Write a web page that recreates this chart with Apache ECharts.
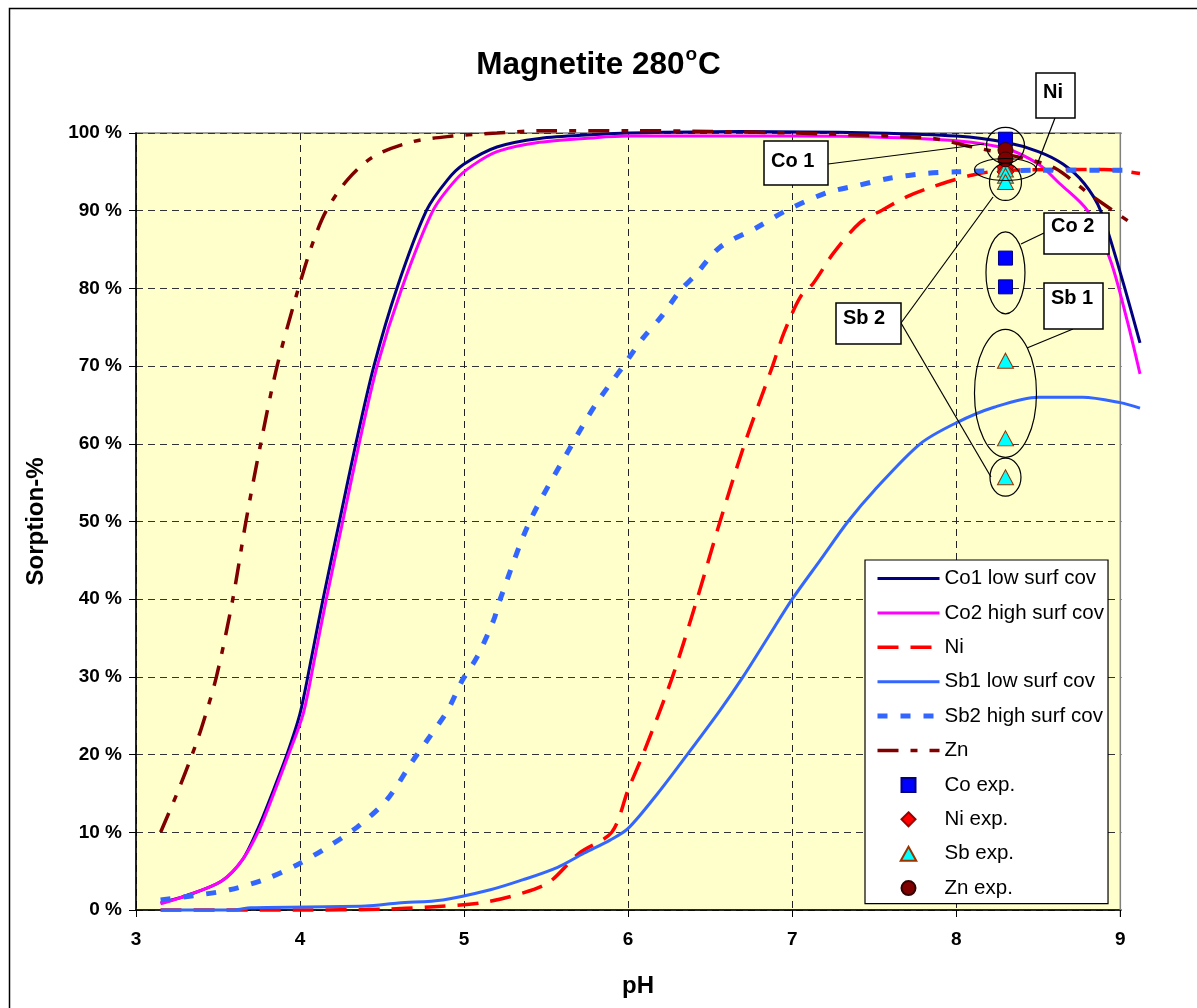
<!DOCTYPE html>
<html>
<head>
<meta charset="utf-8">
<script src="https://cdn.jsdelivr.net/npm/echarts@6/dist/echarts.min.js"></script>
<style>
html,body{margin:0;padding:0;background:#fff;}
#chart{width:1197px;height:1008px;}
</style>
</head>
<body>
<div id="chart"></div>
<script>
// ---- data (pH, sorption %) ----
const co1 = [[3.15,0.9],[3.3,1.8],[3.52,3.7],[3.65,6.5],[3.74,10.3],[3.83,15],[3.92,20],[4.0,25.3],[4.07,32.5],[4.14,40],[4.24,50],[4.34,60],[4.45,70],[4.59,80],[4.77,90],[4.9,94],[5.0,96],[5.2,98.2],[5.46,99.3],[5.8,99.8],[6.0,100],[6.7,100.2],[7.5,100],[8.0,99.6],[8.3,98.8],[8.5,97.6],[8.65,96],[8.78,93.5],[8.88,90],[9.0,82],[9.12,73]];
const co2 = [[3.15,0.8],[3.3,1.8],[3.52,3.7],[3.65,6.5],[3.75,10.3],[3.84,15],[3.93,20],[4.02,25.3],[4.09,32.5],[4.16,40],[4.26,50],[4.36,60],[4.47,70],[4.62,80],[4.81,90],[4.95,94],[5.05,95.8],[5.2,97.6],[5.46,98.8],[5.8,99.4],[6.0,99.6],[7.0,99.6],[7.5,99.5],[8.0,99],[8.3,98],[8.5,96],[8.63,93.5],[8.8,90],[8.94,83.6],[9.04,76],[9.12,69]];
const ni = [[3.15,0],[4.0,0],[4.5,0.1],[4.79,0.4],[5.1,0.9],[5.36,2.2],[5.52,3.6],[5.7,7.3],[5.9,10],[6.0,15.5],[6.09,20],[6.27,30],[6.42,40],[6.56,50],[6.71,60],[6.88,70],[6.95,74.3],[7.05,78.9],[7.13,80.7],[7.25,84.5],[7.41,88.4],[7.55,90.1],[7.7,91.8],[7.86,93.1],[8.1,94.6],[8.3,95.2],[8.9,95.3],[9.12,94.8]];
const sb1 = [[3.15,0],[3.6,0],[3.7,0.3],[4.4,0.5],[4.6,0.9],[4.87,1.3],[5.16,2.6],[5.36,3.9],[5.57,5.5],[5.73,7.3],[5.89,9],[6.0,10.5],[6.18,15],[6.36,20],[6.56,25.7],[6.7,30],[6.85,35],[7.0,40],[7.17,45],[7.34,50],[7.5,54],[7.78,60],[8.0,62.7],[8.23,64.7],[8.5,66],[8.77,66],[9.0,65.3],[9.12,64.6]];
const sb2 = [[3.15,1.3],[3.37,1.9],[3.57,2.6],[3.78,3.9],[3.98,5.8],[4.16,8],[4.35,10.7],[4.53,14.2],[4.69,19.3],[4.79,22.3],[4.9,25.7],[4.99,29.6],[5.08,32.6],[5.18,37.3],[5.22,40],[5.4,50],[5.66,60],[5.8,65],[5.97,70],[6.09,73.6],[6.2,76.3],[6.32,79.8],[6.4,81.5],[6.56,85.3],[6.79,87.9],[6.97,90.1],[7.21,92.3],[7.41,93.3],[7.6,94.2],[7.82,94.8],[8.0,95],[8.5,95.2],[9.05,95.2]];
const zn = [[3.15,10],[3.25,15],[3.33,19.3],[3.4,23.5],[3.49,30],[3.59,40],[3.67,50],[3.76,60],[3.86,70],[3.99,80],[4.08,86],[4.16,90],[4.29,94],[4.45,97],[4.69,98.9],[4.93,99.6],[5.2,100],[5.5,100.3],[6.0,100.3],[6.5,100.2],[7.0,100],[7.6,99.6],[7.86,99.3],[8.1,98.2],[8.4,96.8],[8.6,95.5],[8.82,92],[9.06,88.5]];
const coExp = [[8.3,99.2],[8.3,83.9],[8.3,80.2]];
const niExp = [[8.3,95.6],[8.3,95.0]];
const sbExp = [[8.3,95.3],[8.3,94.5],[8.3,93.7],[8.3,70.7],[8.3,60.7],[8.3,55.7]];
const znExp = [[8.3,97.8],[8.3,96.6]];
const xTicks = [3,4,5,6,7,8,9];
const seriesNames = ['Co1 low surf cov','Co2 high surf cov','Ni','Sb1 low surf cov','Sb2 high surf cov','Zn','Co exp.','Ni exp.','Sb exp.','Zn exp.'];
// annotation ellipses: pH, centre value, radii(px)
const ellipses = [
  {ph:8.3, v:98.4, rx:19, ry:18},
  {ph:8.3, v:95.3, rx:31, ry:11},
  {ph:8.3, v:93.7, rx:16, ry:18.5},
  {ph:8.3, v:82.0, rx:19.5, ry:41},
  {ph:8.3, v:66.5, rx:31, ry:64},
  {ph:8.3, v:55.7, rx:15.5, ry:19}
];

const FONT = 'Liberation Sans, Arial, sans-serif';
const chart = echarts.init(document.getElementById('chart'), null, {renderer:'canvas'});

const lineStyles = [
  {color:'#000080', width:3, type:'solid'},
  {color:'#FF00FF', width:3, type:'solid'},
  {color:'#FF0000', width:3.5, type:[21,12]},
  {color:'#3366FF', width:3, type:'solid'},
  {color:'#3366FF', width:5, type:[10,13]},
  {color:'#800000', width:3.5, type:[21,12,7,12]}
];
function lineSeries(i, data) {
  return {
    name:seriesNames[i], type:'line', data, showSymbol:false, symbol:'none', clip:false,
    smooth:0.3, lineStyle:Object.assign({cap:'butt'}, lineStyles[i]),
    itemStyle:{color:'rgba(0,0,0,0)', borderColor:'rgba(0,0,0,0)'}, z:2
  };
}
function scatterSeries(name, data, symbol, size, fill, border) {
  return {
    name, type:'scatter', data, symbol, symbolSize:size, clip:false,
    itemStyle:{color:fill, borderColor:border, borderWidth:1, opacity:1}, z:3
  };
}
const SQ = 'path://M0,0L10,0L10,10L0,10Z';
const DI = 'path://M5,0L10,5L5,10L0,5Z';
const TR = 'path://M5,0L10,9L0,9Z';
const CI = 'circle';
const legendData = seriesNames.map((n, i) => {
  const icons = {6:SQ, 7:DI, 8:TR, 9:CI};
  if (icons[i]) return {name:n, icon:icons[i]};
  return {name:n, lineStyle:{width:lineStyles[i].width, type:lineStyles[i].type, color:lineStyles[i].color}};
});

chart.setOption({
  animation:false,
  backgroundColor:'#ffffff',
  title:{
    text:'{a|Magnetite 280}{s|o}{a|C}',
    left:'center', top:40,
    textStyle:{
      rich:{
        a:{fontFamily:FONT, fontWeight:'bold', fontSize:31.5, color:'#000', lineHeight:36, verticalAlign:'bottom'},
        s:{fontFamily:FONT, fontWeight:'bold', fontSize:19, color:'#000', lineHeight:36, verticalAlign:'top', padding:[0,1,15,1]}
      }
    }
  },
  grid:{left:136, right:57, top:133, bottom:98, show:true, backgroundColor:'#FFFFCC', borderColor:'#808080', borderWidth:1.5},
  legend:{
    orient:'vertical', left:865, top:560,
    backgroundColor:'#ffffff', borderColor:'#000', borderWidth:1.2,
    padding:[8,4,5,10], itemWidth:62, itemHeight:14, itemGap:13.4,
    symbolKeepAspect:true,
    textStyle:{fontFamily:FONT, fontSize:20.5, color:'#000', lineHeight:20},
    data:legendData
  },
  xAxis:{
    type:'value', min:3, max:9.12, interval:1,
    name:'pH', nameLocation:'middle', nameGap:64,
    nameTextStyle:{fontFamily:FONT, fontWeight:'bold', fontSize:24, color:'#000'},
    axisLine:{show:true, onZero:false, lineStyle:{color:'#000', width:1.5}},
    axisTick:{show:true, inside:false, length:7, lineStyle:{color:'#000'}},
    axisLabel:{fontFamily:FONT, fontWeight:'bold', fontSize:19, color:'#000', margin:20,
               showMaxLabel:false,
               formatter:v => xTicks.indexOf(v) >= 0 ? String(v) : ''},
    splitLine:{show:true, lineStyle:{color:'#222', width:1, type:[7,5]}}
  },
  yAxis:{
    type:'value', min:0, max:100, interval:10,
    name:'Sorption-%', nameLocation:'middle', nameGap:88,
    nameTextStyle:{fontFamily:FONT, fontWeight:'bold', fontSize:24, color:'#000'},
    axisLine:{show:true, lineStyle:{color:'#000', width:1.5}},
    axisTick:{show:true, inside:false, length:7, lineStyle:{color:'#000'}},
    axisLabel:{fontFamily:FONT, fontWeight:'bold', fontSize:19, color:'#000', margin:14, formatter:'{value} %'},
    splitLine:{show:true, lineStyle:{color:'#333', width:1, type:[7,5]}}
  },
  series:[
    lineSeries(0, co1),
    lineSeries(1, co2),
    lineSeries(2, ni),
    lineSeries(3, sb1),
    lineSeries(4, sb2),
    lineSeries(5, zn),
    scatterSeries('Co exp.', coExp, 'rect', 14, '#0000FF', '#000080'),
    scatterSeries('Ni exp.', niExp, 'diamond', [17,17], '#FF0000', '#990000'),
    scatterSeries('Sb exp.', sbExp, 'triangle', [16,15], '#00FFFF', '#993300'),
    scatterSeries('Zn exp.', znExp, 'circle', 15, '#800000', '#330000')
  ]
});

// ---- plot-area edge at pH 9 (curves run a little past it, as in the original) ----
const g = [];
const c9top = chart.convertToPixel({xAxisIndex:0, yAxisIndex:0}, [9, 100]);
const c9bot = chart.convertToPixel({xAxisIndex:0, yAxisIndex:0}, [9, 0]);
const cEnd = chart.convertToPixel({xAxisIndex:0, yAxisIndex:0}, [9.12, 0]);
g.push({type:'rect', shape:{x:c9top[0]+1.2, y:c9top[1]-6, width:(cEnd[0]-c9top[0])+20, height:(c9bot[1]-c9top[1])+20},
        style:{fill:'#ffffff'}, z:1, silent:true});
g.push({type:'line', shape:{x1:c9top[0], y1:c9top[1], x2:c9bot[0], y2:c9bot[1]},
        style:{stroke:'#808080', lineWidth:1.5}, z:1, silent:true});
g.push({type:'line', shape:{x1:c9bot[0], y1:c9bot[1], x2:c9bot[0], y2:c9bot[1]+7},
        style:{stroke:'#000', lineWidth:1}, z:1, silent:true});

// ---- annotations (call-out boxes, ellipses, leader lines) ----
ellipses.forEach(e => {
  const p = chart.convertToPixel({xAxisIndex:0, yAxisIndex:0}, [e.ph, e.v]);
  g.push({type:'ellipse', shape:{cx:p[0], cy:p[1], rx:e.rx, ry:e.ry},
          style:{fill:null, stroke:'#000', lineWidth:1.2}, z:100, silent:true});
});
function line(x1,y1,x2,y2){
  g.push({type:'line', shape:{x1,y1,x2,y2}, style:{stroke:'#000', lineWidth:1.2}, z:100, silent:true});
}
function box(text, x, y, w, h, ty){
  g.push({type:'rect', shape:{x, y, width:w, height:h}, style:{fill:'#fff', stroke:'#000', lineWidth:1.5}, z:101, silent:true});
  g.push({type:'text', x:x+7, y:y+ty, style:{text, fontFamily:FONT, fontWeight:'bold', fontSize:20, fill:'#000'}, z:102, silent:true});
}
line(828,164,984,144);
line(1055,118,1035,170);
line(1044,233,1021,244);
line(1073,329,1027,348);
line(901,323,993,197);
line(901,323,991,477);
box('Co 1', 764, 141, 64, 44, 10);
box('Ni', 1036, 73, 39, 45, 9);
box('Co 2', 1044, 213, 65, 41, 3);
box('Sb 1', 1044, 283, 59, 46, 5);
box('Sb 2', 836, 303, 65, 41, 5);
// outer chart border
g.push({type:'rect', shape:{x:9.5, y:8.5, width:1200, height:1010}, style:{fill:null, stroke:'#000', lineWidth:1.5}, z:0, silent:true});
chart.setOption({graphic:g});
</script>
</body>
</html>
